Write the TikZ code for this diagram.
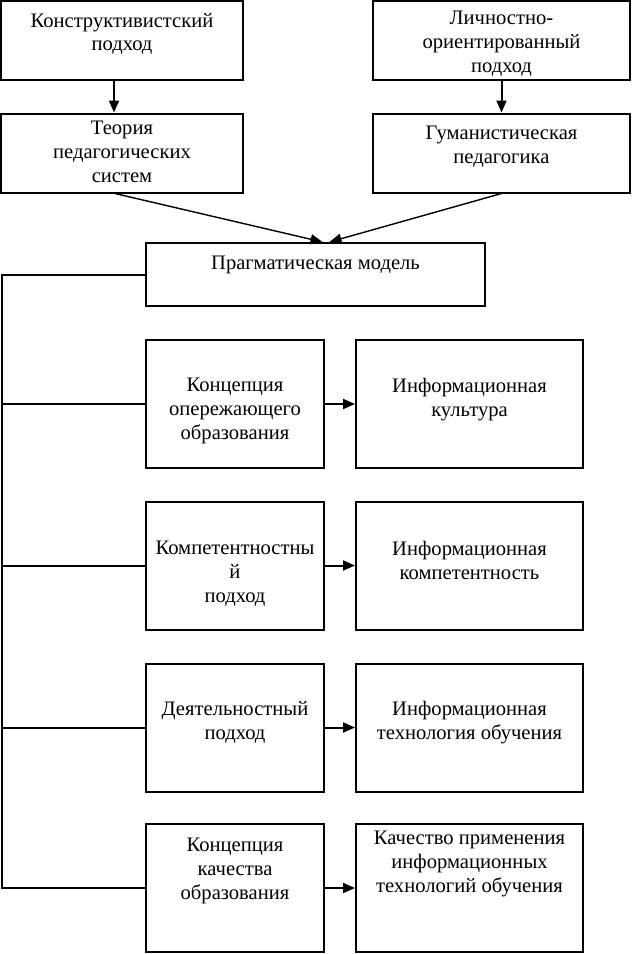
\documentclass[tikz,border=0pt]{standalone}
\usepackage{fontspec}
\setmainfont{Liberation Serif}
\usetikzlibrary{arrows.meta}

\begin{document}
\begin{tikzpicture}
            [x=1pt, y=-1pt, line width=2pt, >={Triangle[length=12pt,width=10pt]},
            box/.style={draw, rectangle, inner sep=0pt},
            top/.style={box, minimum height=79pt},
            konc/.style={box, minimum width=178pt, minimum height=128pt},
            info/.style={box, minimum width=227pt, minimum height=128pt},
            txt/.style={anchor=north, align=center, inner sep=0pt, font=\fontsize{20.6}{23.8}\selectfont}]
            \useasboundingbox (0, 0) rectangle (632, 954);
            \node [top, minimum width=242pt, label={[txt, yshift=-12pt]north:Конструктивистский\\подход}] (konstr) at (122, 40.5) {};
            \node [top, minimum width=257pt, label={[txt, yshift=-10.5pt]north:Личностно-\\ориентированный\\подход}] (lichn) at (501.5, 40.5) {};
            \node [top, minimum width=242pt, label={[txt, yshift=-8pt]north:Теория\\педагогических\\систем}] (teoria) at (122, 153) {};
            \node [top, minimum width=257pt, label={[txt, yshift=-13pt]north:Гуманистическая\\педагогика}] (gum) at (501.5, 153) {};
            \node [box, minimum width=339pt, minimum height=63pt, label={[txt, yshift=-13pt]north:Прагматическая модель}] (prag) at (315.5, 274.5) {};
            \node [konc, label={[txt, yshift=-38pt]north:Концепция\\опережающего\\образования}] (operezh) at (235, 404) {};
            \node [info, label={[txt, yshift=-38pt]north:Информационная\\культура}] (kultura) at (469.5, 404) {};
            \node [konc, label={[txt, yshift=-40pt]north:Компетентностны\\й\\подход}] (kompet) at (235, 565.5) {};
            \node [info, label={[txt, yshift=-40pt]north:Информационная\\компетентность}] (infkomp) at (469.5, 565.5) {};
            \node [konc, label={[txt, yshift=-38pt]north:Деятельностный\\подход}] (deyat) at (235, 727.5) {};
            \node [info, label={[txt, yshift=-38pt]north:Информационная\\технология обучения}] (tehn) at (469.5, 727.5) {};
            \node [konc, label={[txt, yshift=-14pt]north:Концепция\\качества\\образования}] (kachestvo) at (235, 888) {};
            \node [info, label={[txt, yshift=-7pt]north:Качество применения\\информационных\\технологий обучения}] (primen) at (469.5, 888) {};
            \coordinate (bus) at (2, 274.5);
            \draw [->] ([xshift=-8pt]konstr.south) -- ([xshift=-8pt]teoria.north);
            \draw [->] (lichn.south) -- (gum.north);
            \draw [->, line width=1.4pt] ([xshift=-7pt]teoria.south) -- ([xshift=7pt]prag.north);
            \draw [->, line width=1.4pt] (gum.south) -- ([xshift=14pt]prag.north);
            \draw (prag.west) -- (bus) -- (bus |- kachestvo.west) -- (kachestvo.west);
            \draw (bus |- operezh.west) -- (operezh.west);
            \draw (bus |- kompet.west) -- (kompet.west);
            \draw (bus |- deyat.west) -- (deyat.west);
            \draw [->] (operezh) -- (kultura);
            \draw [->] (kompet) -- (infkomp);
            \draw [->] (deyat) -- (tehn);
            \draw [->] (kachestvo) -- (primen);
        \end{tikzpicture}
\end{document}
